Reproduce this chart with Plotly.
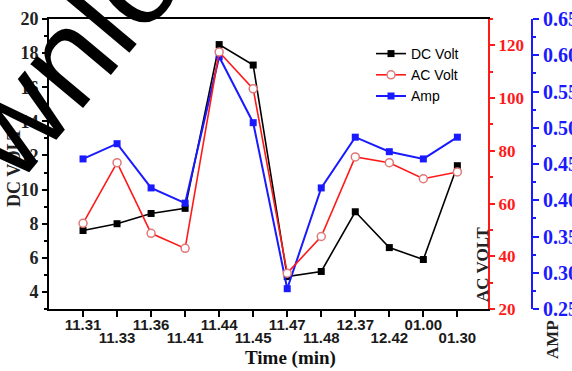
import plotly.graph_objects as go

times = ["11.31", "11.33", "11.36", "11.41", "11.44", "11.45", "11.47", "11.48",
         "12.37", "12.42", "01.00", "01.30"]
dc_volt = [7.6, 8.0, 8.6, 8.9, 18.5, 17.3, 4.9, 5.2, 8.7, 6.6, 5.9, 11.4]
ac_volt = [52.5, 75.5, 48.7, 43.0, 117.5, 103.5, 33.6, 47.5, 77.7, 75.5, 69.4, 72.0]
amp = [0.457, 0.478, 0.417, 0.396, 0.598, 0.507, 0.278, 0.417, 0.487, 0.467, 0.457, 0.487]

SERIF = "Liberation Serif"
SANS = "Liberation Sans"

W, H = 572, 371
L, R, T, B = 49, 0, 19, 0
PLOT_BOTTOM = 309
pw = W - L - R
ph = H - T - B
x_end = (488 - L) / pw
amp_pos = (532 - L) / pw
y_dom = [(H - PLOT_BOTTOM) / ph, 1]


def px(xp):
    return (xp - L) / pw


def py(yp):
    return (H - B - yp) / ph


idx = list(range(len(times)))
upper_vals = [i for i in idx if i % 2 == 0]
lower_vals = [i for i in idx if i % 2 == 1]
x_range = [-1, 11.9]

fig = go.Figure()
fig.add_trace(go.Scatter(
    x=idx, y=dc_volt, name="DC Volt", mode="lines+markers",
    line=dict(color="black", width=1.6),
    marker=dict(symbol="square", size=7, color="black"),
    xaxis="x", yaxis="y"))
fig.add_trace(go.Scatter(
    x=idx, y=ac_volt, name="AC Volt", mode="lines+markers",
    line=dict(color="#ff1a1a", width=1.6),
    marker=dict(symbol="circle", size=8, color="white",
                line=dict(color="#e07878", width=1.5)),
    xaxis="x3", yaxis="y2"))
fig.add_trace(go.Scatter(
    x=idx, y=amp, name="Amp", mode="lines+markers",
    line=dict(color="#1a1aff", width=2),
    marker=dict(symbol="square", size=7, color="#1a1aff"),
    xaxis="x2", yaxis="y3"))

xtick_font = dict(family=SANS, size=15, color="#1a1a1a", weight="bold")
label_axis = dict(domain=[0, x_end], range=x_range, ticks="", showline=False,
                  showgrid=False, zeroline=False, automargin=False,
                  tickfont=xtick_font, tickangle=0, overlaying="x", side="bottom",
                  anchor="free")

fig.update_layout(
    width=W, height=H,
    margin=dict(l=L, r=R, t=T, b=B, pad=0, autoexpand=False),
    paper_bgcolor="white", plot_bgcolor="white",
    showlegend=True,
    legend=dict(x=px(371), y=py(38), xanchor="left", yanchor="top",
                bgcolor="rgba(0,0,0,0)", borderwidth=0,
                font=dict(family=SANS, size=14, color="black"),
                itemwidth=30, tracegroupgap=0),
    xaxis=dict(
        domain=[0, x_end], range=x_range, anchor="y",
        tickvals=idx, showticklabels=False,
        ticks="outside", ticklen=6, tickwidth=2, tickcolor="black",
        showline=True, linecolor="black", linewidth=2, mirror=True,
        showgrid=False, zeroline=False, automargin=False),
    xaxis2=dict(label_axis, position=py(PLOT_BOTTOM + 5),
                tickvals=upper_vals, ticktext=[times[i] for i in upper_vals]),
    xaxis3=dict(label_axis, position=py(PLOT_BOTTOM + 18),
                tickvals=lower_vals, ticktext=[times[i] for i in lower_vals]),
    yaxis=dict(
        domain=y_dom, anchor="x",
        range=[3, 20], tickvals=list(range(4, 21, 2)),
        ticks="outside", ticklen=5, tickwidth=2, tickcolor="black",
        minor=dict(tickvals=list(range(3, 20, 2)), ticks="outside",
                   ticklen=3, tickwidth=1.5, tickcolor="black"),
        showline=True, linecolor="black", linewidth=2,
        showgrid=False, zeroline=False, automargin=False,
        tickfont=dict(family=SERIF, size=18, color="#222", weight="bold")),
    yaxis2=dict(
        domain=y_dom, overlaying="y", side="right", anchor="x",
        range=[20, 130], tickvals=[20, 40, 60, 80, 100, 120],
        ticks="outside", ticklen=5, tickwidth=2, tickcolor="#ff1a1a",
        minor=dict(tickvals=[30, 50, 70, 90, 110, 130], ticks="outside",
                   ticklen=3, tickwidth=1.5, tickcolor="#ff1a1a"),
        showline=True, linecolor="#ff1a1a", linewidth=2,
        showgrid=False, zeroline=False, automargin=False,
        tickfont=dict(family=SERIF, size=17, color="#ff1a1a", weight="bold")),
    yaxis3=dict(
        domain=y_dom, overlaying="y", side="right", anchor="free", position=amp_pos,
        range=[0.25, 0.65],
        tickvals=[0.25, 0.30, 0.35, 0.40, 0.45, 0.50, 0.55, 0.60, 0.65],
        tickformat=".2f",
        ticks="outside", ticklen=6, tickwidth=2, tickcolor="#1a1aff",
        minor=dict(tickvals=[0.275, 0.325, 0.375, 0.425, 0.475, 0.525, 0.575, 0.625],
                   ticks="outside", ticklen=3, tickwidth=1.5, tickcolor="#1a1aff"),
        showline=True, linecolor="#1a1aff", linewidth=2,
        showgrid=False, zeroline=False, automargin=False,
        tickfont=dict(family=SERIF, size=20, color="#1a1aff", weight="bold")),
    annotations=[
        dict(text="Time (min)", xref="paper", yref="paper",
             x=px(290), y=py(358), xanchor="center", yanchor="middle",
             showarrow=False,
             font=dict(family=SERIF, size=19, color="#111", weight="bold")),
        dict(text="DC VOLT", xref="paper", yref="paper",
             x=px(14), y=py(168), xanchor="center", yanchor="middle",
             showarrow=False, textangle=-90,
             font=dict(family=SERIF, size=18, color="#222", weight="bold")),
        dict(text="AC VOLT", xref="paper", yref="paper",
             x=px(482), y=py(265), xanchor="center", yanchor="middle",
             showarrow=False, textangle=-90,
             font=dict(family=SERIF, size=17, color="#222", weight="bold")),
        dict(text="AMP", xref="paper", yref="paper",
             x=px(552), y=py(340), xanchor="center", yanchor="middle",
             showarrow=False, textangle=-90,
             font=dict(family=SERIF, size=17, color="#222", weight="bold")),
        dict(text="wnlo", xref="paper", yref="paper",
             x=px(68), y=py(56), xanchor="center", yanchor="middle",
             showarrow=False, textangle=-50,
             font=dict(family=SANS, size=130, color="black")),
    ],
)

fig.write_html("out.html", config={"displayModeBar": False},
               post_script="document.body.style.margin='0';")
